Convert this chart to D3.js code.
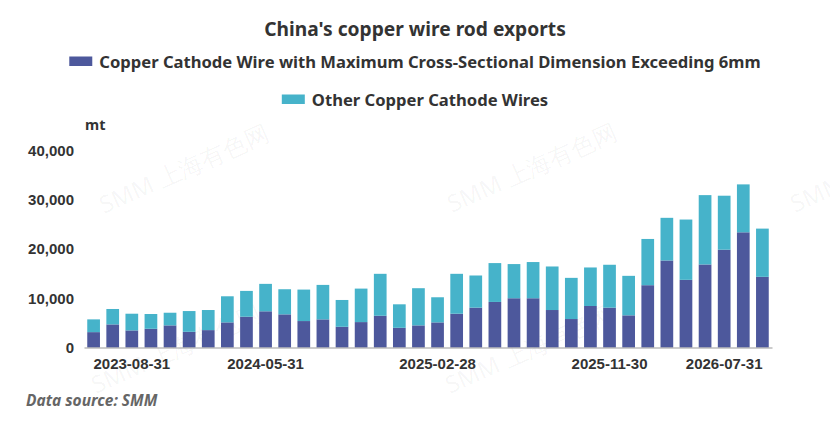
<!DOCTYPE html>
<html>
<head>
<meta charset="utf-8">
<script src="https://cdn.jsdelivr.net/npm/d3@7"></script>
<style>
  body { margin: 0; background: #fff; }
  svg { display: block; font-family: "Noto Sans", "Open Sans", sans-serif; }
</style>
</head>
<body>
<div id="chart"></div>
<script>
// month-end dates on the category axis
const categories = [
  "2023-06-30", "2023-07-31", "2023-08-31", "2023-09-30", "2023-10-31", "2023-11-30",
  "2023-12-31", "2024-03-31", "2024-04-30", "2024-05-31", "2024-06-30", "2024-07-31",
  "2024-08-31", "2024-09-30", "2024-10-31", "2024-11-30", "2024-12-31", "2025-01-31",
  "2025-02-28", "2025-03-31", "2025-04-30", "2025-05-31", "2025-06-30", "2025-07-31",
  "2025-08-31", "2025-09-30", "2025-10-31", "2025-11-30", "2025-12-31", "2026-03-31",
  "2026-04-30", "2026-05-31", "2026-06-30", "2026-07-31", "2026-08-31", "2026-09-30"
];
const tickLabels = ["2023-08-31", "2024-05-31", "2025-02-28", "2025-11-30", "2026-07-31"];

// mt
const over6mm = [
  3120, 4690, 3470, 3800, 4490, 3190, 3530, 5100, 6250, 7350, 6730, 5370,
  5710, 4210, 5160, 6450, 4000, 4490, 5100, 6860, 8090, 9250, 10000, 10000,
  7610, 5780, 8430, 8090, 6530, 12650, 17670, 13740, 16860, 19860, 23390, 14350
];
const otherWires = [
  2590, 3130, 3390, 3000, 2570, 4210, 4080, 5300, 5240, 5570, 5100, 6390,
  7000, 5440, 6800, 8510, 4770, 7550, 5100, 8100, 6530, 7890, 6940, 7350,
  8840, 8360, 7820, 8710, 8020, 9390, 8660, 12240, 14080, 10960, 9730, 9790
];
const yTicks = [0, 10000, 20000, 30000, 40000];

const seriesNames = [
  "Copper Cathode Wire with Maximum Cross-Sectional Dimension Exceeding 6mm",
  "Other Copper Cathode Wires"
];
const colors = ["#4d589c", "#46b3ca"];

const W = 830, H = 423;
const svg = d3.select("#chart").append("svg")
  .attr("width", W)
  .attr("height", H);

// watermark, under the bars
const marks = [[104, 214], [452, 213], [795, 213], [96, 394], [450, 394]];
svg.append("g").selectAll("text")
  .data(marks)
  .join("text")
  .attr("transform", d => `translate(${d[0]},${d[1]}) rotate(-24)`)
  .attr("font-size", 24)
  .attr("fill", "#000")
  .attr("fill-opacity", 0.045)
  .text("SMM 上海有色网");

// title
svg.append("text")
  .attr("x", 415).attr("y", 35.5)
  .attr("text-anchor", "middle")
  .attr("font-size", 19.2)
  .attr("font-weight", "bold")
  .attr("fill", "#333")
  .text("China's copper wire rod exports");

// legend (two rows, centered)
const legendRows = [[0, 68], [1, 106]];
legendRows.forEach(([i, y]) => {
  const g = svg.append("g");
  g.append("rect")
    .attr("y", y - 11.5).attr("width", 23).attr("height", 9.5)
    .attr("fill", colors[i]);
  const t = g.append("text")
    .attr("x", 30).attr("y", y)
    .attr("font-size", 16.6)
    .attr("font-weight", "bold")
    .attr("fill", "#333")
    .text(seriesNames[i]);
  const w = 30 + t.node().getComputedTextLength();
  g.attr("transform", `translate(${415 - w / 2},0)`);
});

const x = d3.scaleBand()
  .domain(categories)
  .range([84, 772])
  .paddingInner(0.335)
  .paddingOuter(0.17);

const y = d3.scaleLinear()
  .domain([0, 40000])
  .range([347.5, 150.5]);

const stacked = d3.stack().keys([0, 1])
  .value((d, k) => k === 0 ? over6mm[d] : otherWires[d])(d3.range(categories.length));

svg.append("g").selectAll("g")
  .data(stacked)
  .join("g")
  .attr("fill", (d, i) => colors[i])
  .selectAll("rect")
  .data(d => d)
  .join("rect")
  .attr("x", d => x(categories[d.data]))
  .attr("width", x.bandwidth())
  .attr("y", d => y(d[1]))
  .attr("height", d => y(d[0]) - y(d[1]));

// x axis
const xAxis = svg.append("g")
  .attr("transform", "translate(0,347.5)")
  .call(d3.axisBottom(x).tickValues(tickLabels).tickSize(0).tickPadding(10.5));
xAxis.select(".domain").attr("stroke", "#999").attr("stroke-width", 1.2);
xAxis.selectAll("text")
  .attr("font-size", 15)
  .attr("font-weight", "bold")
  .attr("fill", "#333")
  .attr("font-family", "inherit");

// y axis, labels only
const yAxis = svg.append("g")
  .attr("transform", "translate(74,0)")
  .call(d3.axisLeft(y).tickValues(yTicks).tickSize(0).tickPadding(0).tickFormat(d3.format(",")));
yAxis.select(".domain").remove();
yAxis.selectAll("text")
  .attr("font-size", 15)
  .attr("font-weight", "bold")
  .attr("fill", "#333")
  .attr("font-family", "inherit");

svg.append("text")
  .attr("x", 85).attr("y", 130)
  .attr("font-size", 14.5)
  .attr("font-weight", "bold")
  .attr("fill", "#333")
  .text("mt");

svg.append("text")
  .attr("x", 26).attr("y", 406)
  .attr("font-size", 15.5)
  .attr("font-weight", "bold")
  .attr("font-style", "italic")
  .attr("fill", "#666")
  .text("Data source:  SMM");
</script>
</body>
</html>
